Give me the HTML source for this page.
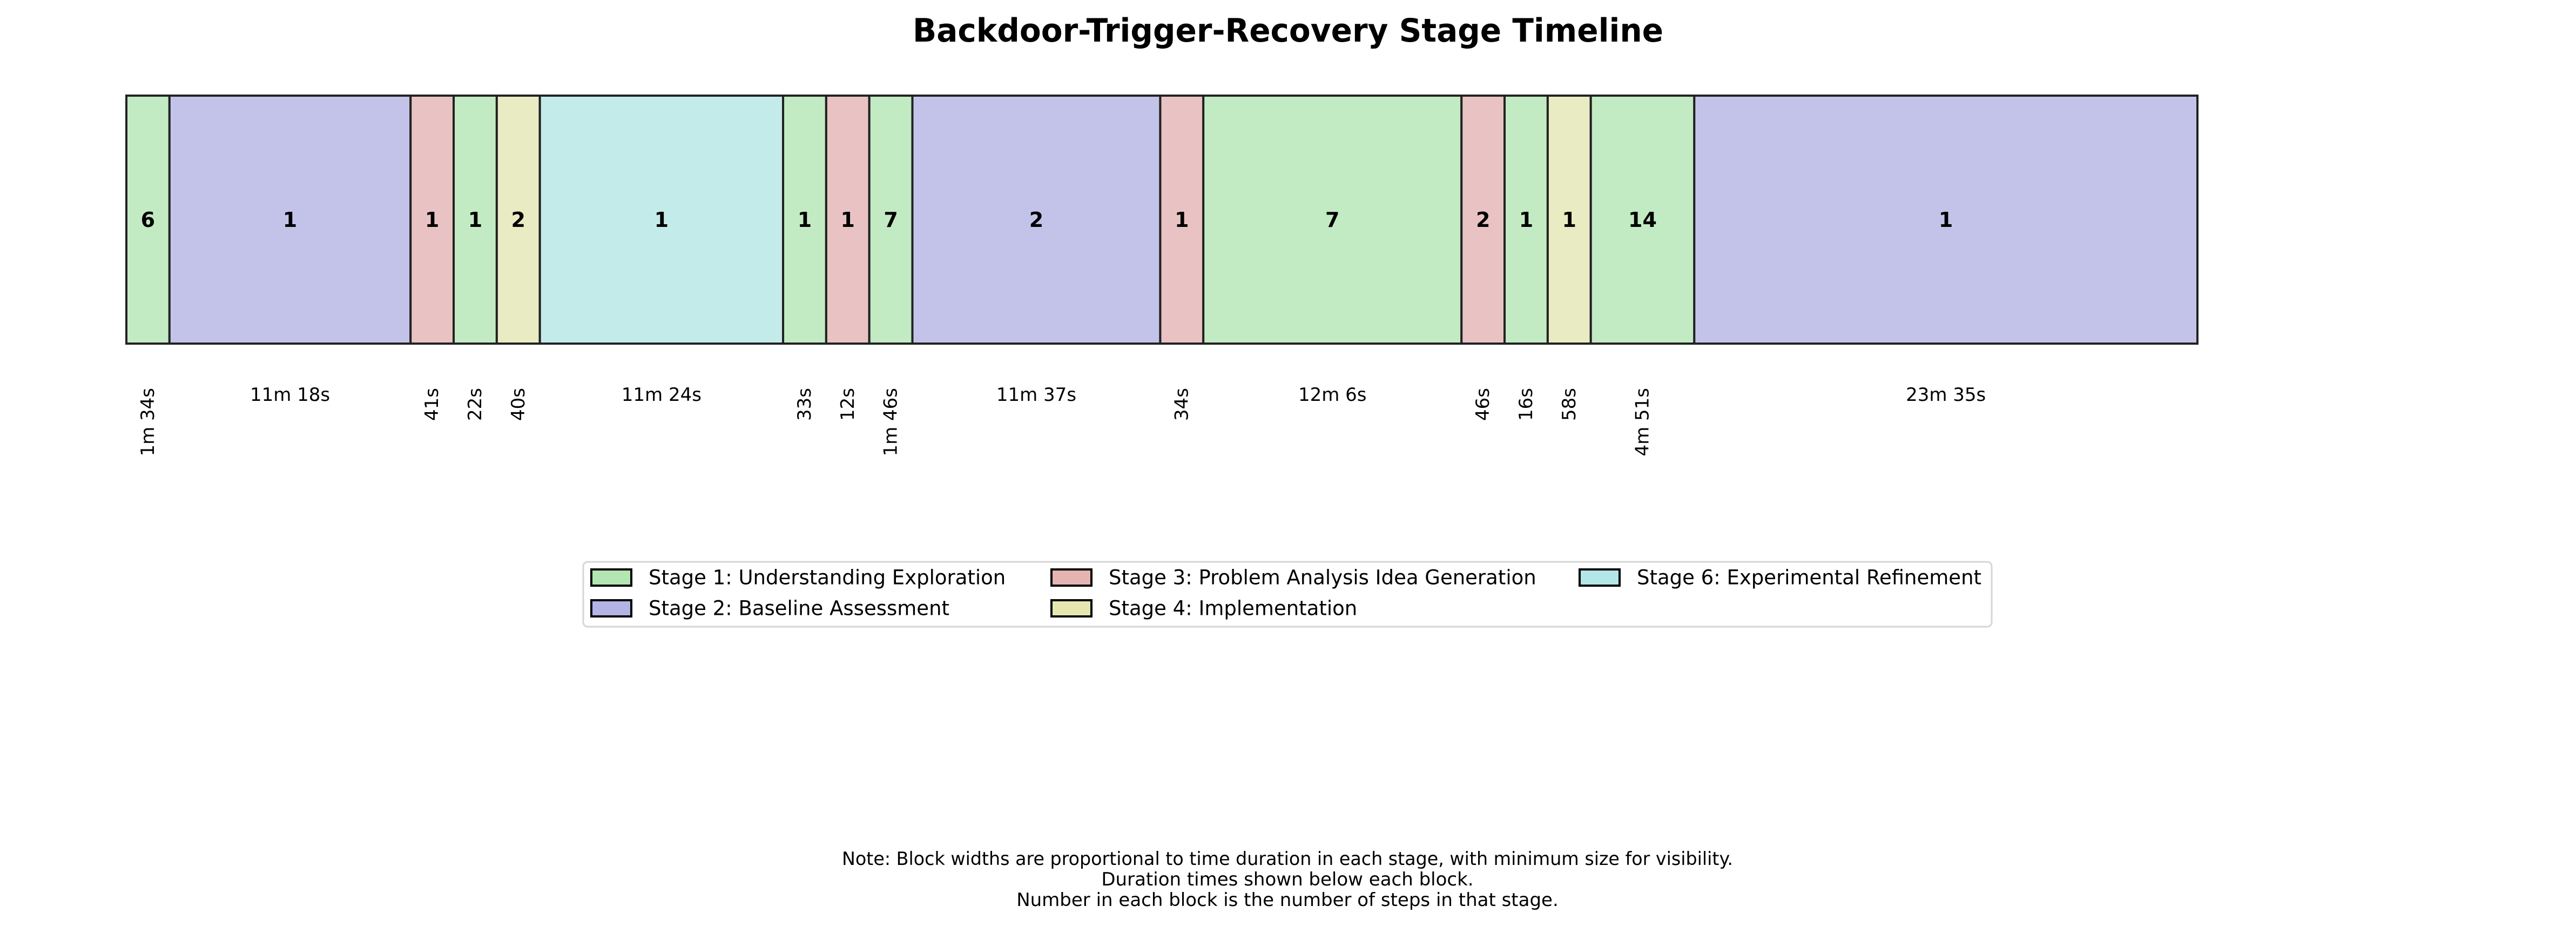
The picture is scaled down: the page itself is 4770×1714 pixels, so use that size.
<!DOCTYPE html>
<html><head><meta charset="utf-8"><style>
html,body{margin:0;padding:0;background:#fff;}
svg{display:block;font-family:"DejaVu Sans","Liberation Sans",sans-serif;}
</style></head><body>
<svg id="chart" width="4770" height="1714" viewBox="0 0 4770 1714" xmlns="http://www.w3.org/2000/svg">
<rect width="4770" height="1714" fill="#fff"/>
<text x="2385" y="77" text-anchor="middle" font-size="60" font-weight="bold" textLength="1390" lengthAdjust="spacingAndGlyphs">Backdoor-Trigger-Recovery Stage Timeline</text>
<g id="blocks"></g>
<g id="legend"></g>
<g font-size="34" text-anchor="middle">
<text x="2384" y="1601" textLength="1650" lengthAdjust="spacingAndGlyphs">Note: Block widths are proportional to time duration in each stage, with minimum size for visibility.</text>
<text x="2384" y="1639">Duration times shown below each block.</text>
<text x="2384" y="1677">Number in each block is the number of steps in that stage.</text>
</g>
</svg>
<script>
const stages = [1,2,3,1,4,6,1,3,1,2,3,1,3,1,4,1,2];
const steps = [6,1,1,1,2,1,1,1,7,2,1,7,2,1,1,14,1];
const durations = [94,678,41,22,40,684,33,12,106,697,34,726,46,16,58,291,1415];
const durationLabels = ["1m 34s","11m 18s","41s","22s","40s","11m 24s","33s","12s","1m 46s","11m 37s","34s","12m 6s","46s","16s","58s","4m 51s","23m 35s"];
const stageNames = {1:"Stage 1: Understanding Exploration",2:"Stage 2: Baseline Assessment",3:"Stage 3: Problem Analysis Idea Generation",4:"Stage 4: Implementation",6:"Stage 6: Experimental Refinement"};
const fill = {1:"#c3ebc3",2:"#c3c3ea",3:"#e9c3c3",4:"#e9ebc3",6:"#c3ebea"};
const patch = {1:"#b3e6b3",2:"#b3b3e6",3:"#e6b3b3",4:"#e6e6b3",6:"#b3e6e6"};
const NS="http://www.w3.org/2000/svg";
const X0=234, X1=4069, Y0=177, Y1=636, minW=80;
function mk(tag,attrs,parent){const e=document.createElementNS(NS,tag);for(const k in attrs)e.setAttribute(k,attrs[k]);parent.appendChild(e);return e;}
const raw = durations.map(d=>Math.max(d*0.66,minW));
const tot = raw.reduce((a,b)=>a+b,0);
const sc = (X1-X0)/tot;
const g=document.getElementById('blocks');
let x=X0;
durations.forEach((d,i)=>{
  const w=raw[i]*sc;
  const r=mk('rect',{x:x,y:Y0,width:w,height:Y1-Y0,fill:fill[stages[i]],stroke:"#222",'stroke-width':4},g);
  
  
  const cx=x+w/2;
  const t=mk('text',{x:cx,y:407,'text-anchor':'middle','dominant-baseline':'central','font-size':38,'font-weight':'bold'},g);
  t.textContent=steps[i];
  
  
  let l;
  if(w>300){
    l=mk('text',{x:cx,y:742,'text-anchor':'middle','font-size':34},g);
  } else {
    l=mk('text',{x:0,y:0,'text-anchor':'end','dominant-baseline':'central','font-size':34,transform:`translate(${cx},718) rotate(-90)`},g);
  }
  l.textContent=durationLabels[i];
  
  
  x+=w;
});
const lg=document.getElementById('legend');
const box=mk('rect',{x:1080,y:1040,width:2608,height:120,rx:8,fill:"#fff",stroke:"#d6d6d6",'stroke-width':3},lg);


const order=[[1,1095,1069],[2,1095,1126],[3,1947,1069],[4,1947,1126],[6,2925,1069]];
order.forEach(([s,px,cy])=>{
  const p=mk('rect',{x:px,y:cy-15,width:74,height:30,fill:patch[s],stroke:"#000",'stroke-width':4},lg);
  
  
  const t=mk('text',{x:px+106,y:cy,'dominant-baseline':'central','font-size':37},lg);
  t.textContent=stageNames[s];
  
  
});
</script>
</body></html>
